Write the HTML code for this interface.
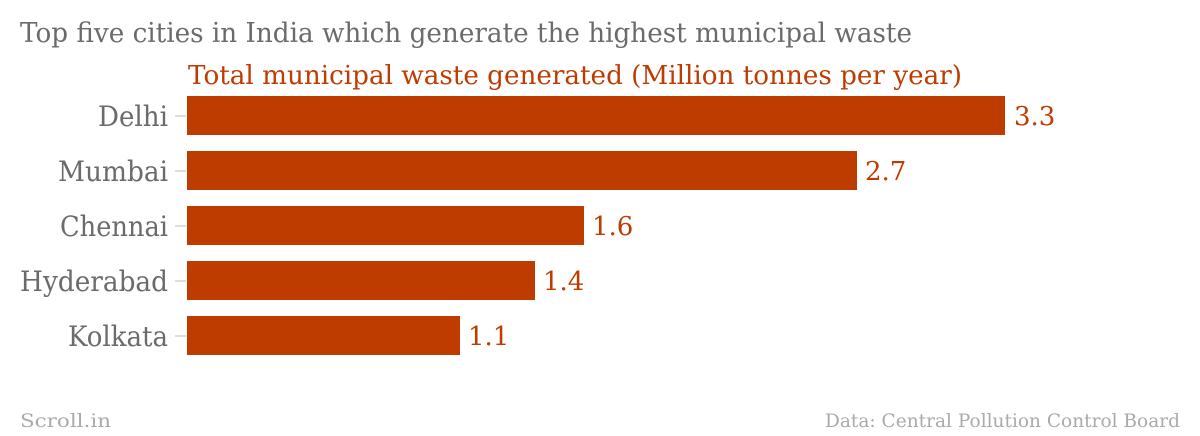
<!DOCTYPE html>
<html><head><style>body{margin:0;background:#fff}svg{display:block}text{font-family:"DejaVu Serif","Liberation Serif",serif}</style></head>
<body>
<svg width="1200" height="436" viewBox="0 0 1200 436" xmlns="http://www.w3.org/2000/svg">
<text x="20" y="42" font-size="27" fill="#6b6b6b" textLength="892" lengthAdjust="spacingAndGlyphs">Top five cities in India which generate the highest municipal waste</text>
<text x="188" y="84" font-size="26" fill="#bf3c00" textLength="774" lengthAdjust="spacingAndGlyphs">Total municipal waste generated (Million tonnes per year)</text>
<g stroke="#ddd" stroke-width="2">
<line x1="175" y1="116" x2="186" y2="116"/><line x1="175" y1="171" x2="186" y2="171"/><line x1="175" y1="226" x2="186" y2="226"/><line x1="175" y1="281" x2="186" y2="281"/><line x1="175" y1="336" x2="186" y2="336"/>
</g>
<g fill="#bf3c00">
<rect x="187" y="96" width="818" height="39"/>
<rect x="187" y="151" width="670" height="39"/>
<rect x="187" y="206" width="397" height="39"/>
<rect x="187" y="261" width="348" height="39"/>
<rect x="187" y="316" width="273" height="39"/>
</g>
<g font-size="28" fill="#6b6b6b" text-anchor="end">
<text x="168" y="126" textLength="70" lengthAdjust="spacingAndGlyphs">Delhi</text><text x="168" y="181" textLength="110" lengthAdjust="spacingAndGlyphs">Mumbai</text><text x="168" y="236" textLength="108" lengthAdjust="spacingAndGlyphs">Chennai</text><text x="168" y="291" textLength="148" lengthAdjust="spacingAndGlyphs">Hyderabad</text><text x="168" y="346" textLength="100" lengthAdjust="spacingAndGlyphs">Kolkata</text>
</g>
<g font-size="26" fill="#bf3c00">
<text x="1014" y="125">3.3</text><text x="865" y="180">2.7</text><text x="592" y="235">1.6</text><text x="543" y="290">1.4</text><text x="468" y="345">1.1</text>
</g>
<text x="20" y="427" font-size="19" fill="#aaa" textLength="91" lengthAdjust="spacingAndGlyphs">Scroll.in</text>
<text x="1180" y="427" font-size="19" fill="#aaa" text-anchor="end" textLength="355" lengthAdjust="spacingAndGlyphs">Data: Central Pollution Control Board</text>
</svg>
</body></html>
